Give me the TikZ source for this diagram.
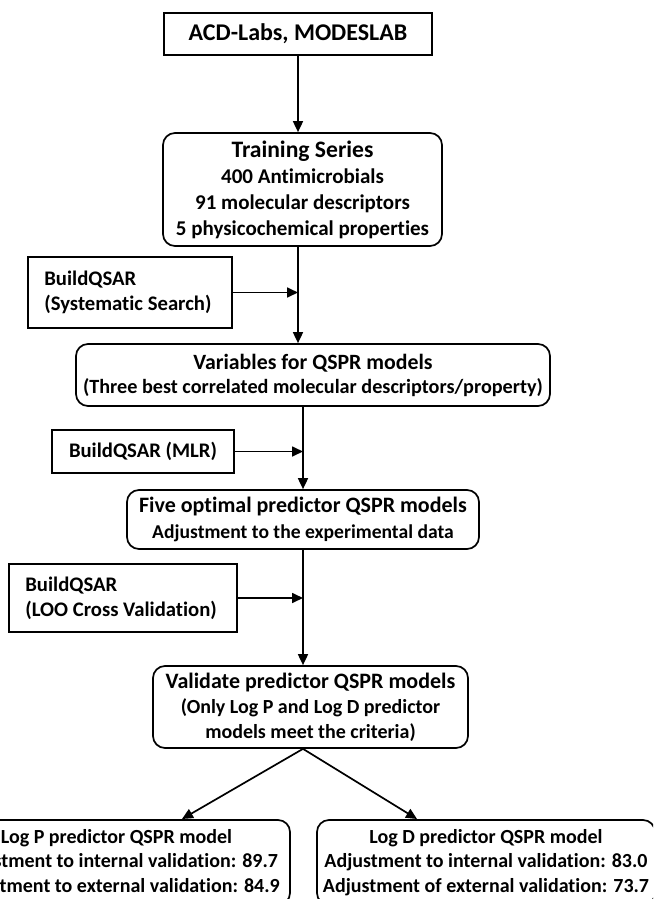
\documentclass[tikz,border=0pt]{standalone}
\usepackage{fontspec}
\setmainfont{Carlito}[Ligatures=NoCommon]
\usetikzlibrary{arrows.meta,calc}
\begin{document}
\begin{tikzpicture}[x=1pt,y=-1pt,
  box/.style={draw, line width=1.7pt, align=center, inner sep=0pt,
    font=\bfseries\fontsize{20.7}{25}\selectfont},
  rbox/.style={box, rounded corners=12pt},
  ltext/.style={align=left, inner sep=0pt, anchor=west,
    font=\bfseries\fontsize{20.7}{25}\selectfont},
  arr/.style={line width=1.7pt, -{Triangle[length=11pt,width=10pt]}},
]
\useasboundingbox (0,0) rectangle (653,899);
\clip (0,0) rectangle (653,899);

\node[box, minimum width=268pt, minimum height=42pt,
  font=\bfseries\fontsize{24}{28}\selectfont] (acd) at (298,34) {ACD-Labs, MODESLAB};

\node[rbox, minimum width=279pt, minimum height=113pt,
  font=\bfseries\fontsize{21}{26}\selectfont] (train) at (302.5,189.5)
  {{\fontsize{23.6}{26}\selectfont Training Series}\\400 Antimicrobials\\91 molecular descriptors\\5 physicochemical properties};

\node[box, minimum width=204pt, minimum height=71pt] (ss) at (130,292.5) {};
\node[ltext] (sstext) at ($(ss.west)+(17,0)$) {BuildQSAR\\(Systematic Search)};

\node[rbox, minimum width=474pt, minimum height=62pt,
  font=\bfseries\fontsize{20.2}{24}\selectfont] (var) at (313,375)
  {{\fontsize{21.8}{24}\selectfont Variables for QSPR models}\\(Three best correlated molecular descriptors/property)};

\node[box, minimum width=182pt, minimum height=43pt] (mlr) at (143,451.5)
  {BuildQSAR (MLR)};

\node[rbox, minimum width=352pt, minimum height=59pt,
  font=\bfseries\fontsize{19.6}{26}\selectfont] (five) at (303,519.5)
  {{\fontsize{22}{26}\selectfont Five optimal predictor QSPR models}\\Adjustment to the experimental data};

\node[box, minimum width=228pt, minimum height=68pt] (loo) at (123,598) {};
\node[ltext] (lootext) at ($(loo.west)+(17,0)$) {BuildQSAR\\(LOO Cross Validation)};

\node[rbox, minimum width=315pt, minimum height=82pt,
  font=\bfseries\fontsize{20}{25}\selectfont] (val) at (310.5,707)
  {{\fontsize{22}{25}\selectfont Validate predictor QSPR models}\\(Only Log P and Log D predictor\\models meet the criteria)};

\node[rbox, minimum width=347pt, minimum height=85pt,
  font=\bfseries\fontsize{20}{24.5}\selectfont] (lp) at (116.5,862.5)
  {Log P predictor QSPR model\\Adjustment to internal validation: 89.7\\Adjustment to external validation: 84.9};

\node[rbox, minimum width=338pt, minimum height=85pt,
  font=\bfseries\fontsize{20}{24.5}\selectfont] (ld) at (486,862.5)
  {Log D predictor QSPR model\\Adjustment to internal validation: 83.0\\Adjustment of external validation: 73.7};

\draw[arr] (acd.south) -- (acd.south |- train.north);
\draw[arr] (acd.south |- train.south) -- (acd.south |- var.north);
\draw[arr] (ss.east) -- (ss.east -| acd.south);
\draw[arr] (var.south -| five.north) -- (five.north);
\draw[arr] (mlr.east) -- (mlr.east -| five.north);
\draw[arr] (five.south) -- (five.south |- val.north);
\draw[arr] (loo.east) -- (loo.east -| five.south);
\coordinate (vb) at (val.south -| five.south);
\coordinate (lt) at (182,819);
\coordinate (rt) at (417,819);
\draw[arr] (vb) -- (lt);
\draw[arr] (vb) -- (rt);
\end{tikzpicture}
\end{document}
